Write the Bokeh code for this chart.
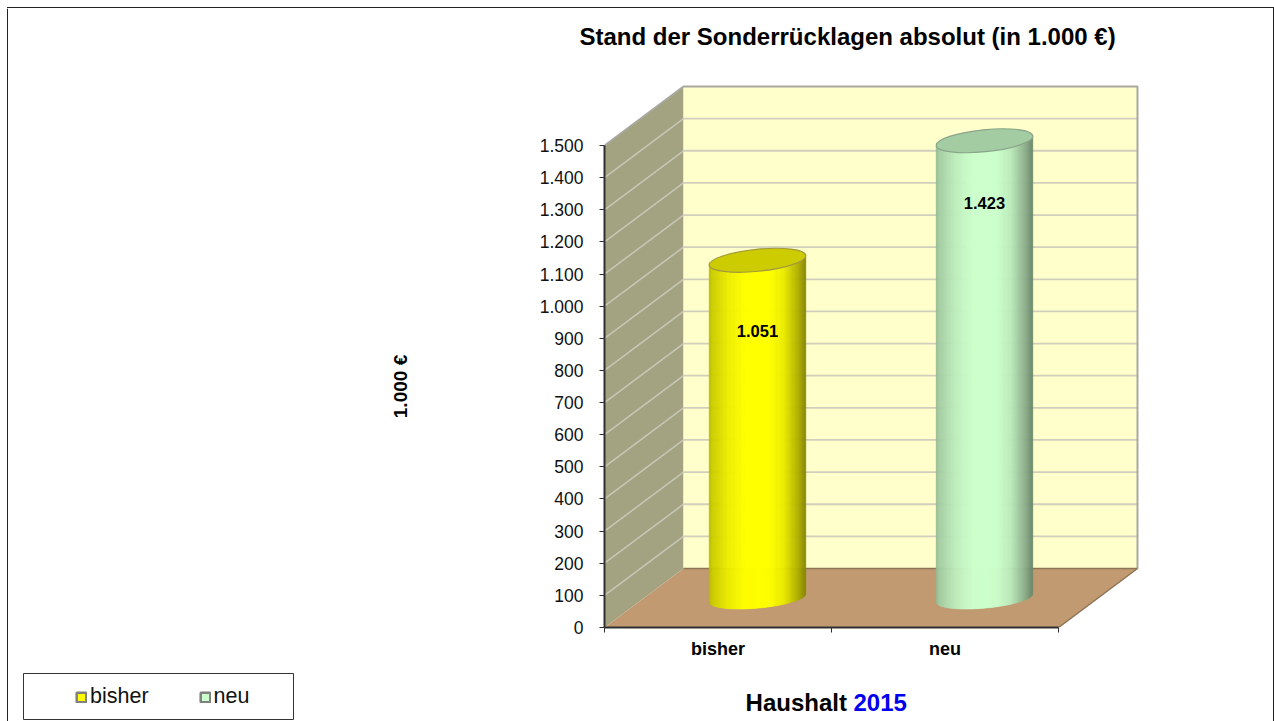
import numpy as np
from bokeh.core.properties import value
from bokeh.embed import file_html
from bokeh.layouts import column, row
from bokeh.models import Div, FixedTicker, Legend, LegendItem, LinearAxis, Range1d, Title
from bokeh.plotting import figure
from bokeh.resources import INLINE

categories = ["bisher", "neu"]
values = [1051, 1423]
value_labels = ["1.051", "1.423"]
y_ticks = list(range(0, 1501, 100))
y_tick_labels = ["0", "100", "200", "300", "400", "500", "600", "700", "800", "900",
                 "1.000", "1.100", "1.200", "1.300", "1.400", "1.500"]
bar_fill = ["#ffff00", "#ccffcc"]
top_fill = ["#cccc00", "#a3cca3"]
top_edge = ["#a39a3c", "#8aa58a"]

FONT = "Liberation Sans"
PAGE_W, PAGE_H = 1274, 721
TOP, RIGHT = 8, 1266
SPLIT_X, SPLIT_Y = 500, 665
FX0, FX1, FY0, FY1 = 604, 1160, 54, 627            # main frame in the picture
PX_X = 227.0              # pixels per category
PX_Y = 482.0 / 1500.0     # pixels per unit
DX = 79 / PX_X            # depth of the 3D box, in data units
DY = 59 / PX_Y
BORDER = "#222222"


def page_figure(x0, x1, y0, y1):
    """A figure without axes whose data coordinates are picture pixels."""
    f = figure(width=x1 - x0, height=y1 - y0, output_backend="svg", toolbar_location=None,
               x_range=Range1d(x0, x1), y_range=Range1d(y1, y0),
               min_border=0, min_border_left=0, min_border_right=0, min_border_top=0, min_border_bottom=0,
               x_axis_type=None, y_axis_type=None, outline_line_color=None)
    f.grid.visible = False
    return f


# main chart
p = figure(width=RIGHT - SPLIT_X, height=SPLIT_Y - TOP, output_backend="svg", toolbar_location=None,
           x_range=Range1d(0, (FX1 - FX0) / PX_X), y_range=Range1d(0, (FY1 - FY0) / PX_Y),
           min_border_left=FX0 - SPLIT_X, min_border_right=RIGHT - FX1,
           min_border_top=FY0 - TOP, min_border_bottom=SPLIT_Y - FY1,
           x_axis_type=None, y_axis_type=None, outline_line_color=None)
p.grid.visible = False

WALL_EDGE = "#a8a8a0"
n = len(categories)
p.patch([0, DX, DX, 0], [0, DY, DY + 1500, 1500], fill_color="#a3a382", line_color=None)
p.quad(left=[DX], right=[n + DX], bottom=[DY], top=[DY + 1500], fill_color="#ffffcc", line_color=None)
for v in y_ticks[1:-1]:
    p.line([0, DX], [v, v + DY], line_color="#c6c6b6", line_width=1.6)
    p.line([DX, n + DX], [v + DY, v + DY], line_color="#cfcfbb", line_width=1.8)
p.line([0, DX, n + DX, n + DX], [1500, 1500 + DY, 1500 + DY, DY], line_color=WALL_EDGE, line_width=2)
p.patch([0, DX, n + DX, n], [0, DY, DY, 0], fill_color="#c19a72", line_color=None)
p.line([DX, n + DX, n], [DY, DY, 0], line_color="#8f7355", line_width=1.5)

# cylinders
A, B, THETA = 48.5, 11.0, 0.10
shade_pos = [-1.0, -0.93, -0.6, -0.25, 0.25, 0.55, 0.85, 1.0]
shade_amt = [0.72, 0.80, 0.93, 1.0, 1.0, 0.92, 0.68, 0.52]


def mix(hex_col, k):
    rgb = [int(hex_col[i:i + 2], 16) for i in (1, 3, 5)]
    return "#%02x%02x%02x" % tuple(int(round(c * k)) for c in rgb)


t = np.linspace(np.pi, 2 * np.pi, 200)
ex = A * np.cos(t) * np.cos(THETA) - B * np.sin(t) * np.sin(THETA)
ey = A * np.cos(t) * np.sin(THETA) + B * np.sin(t) * np.cos(THETA)
order = np.argsort(ex)
ex, ey = ex[order], ey[order]
edges = np.linspace(ex[0], ex[-1], 98)
lower = np.interp(edges, ex, ey) * 0.92
center = edges * np.tan(THETA)

for i, (val, col) in enumerate(zip(values, bar_fill)):
    cx = i + 0.5 + DX / 2
    base = DY / 2
    xs, ys, cols = [], [], []
    for j in range(len(edges) - 1):
        xa, xb = cx + edges[j] / PX_X, cx + edges[j + 1] / PX_X
        xs.append([xa, xb, xb, xa])
        ys.append([base + lower[j] / PX_Y, base + lower[j + 1] / PX_Y,
                   base + val + center[j + 1] / PX_Y, base + val + center[j] / PX_Y])
        u = (edges[j] + edges[j + 1]) / 2 / A
        cols.append(mix(col, float(np.interp(u, shade_pos, shade_amt))))
    p.patches(xs, ys, fill_color=cols, line_color=cols, line_width=0.6)
    p.ellipse([cx], [base + val], width=2 * A, height=2 * B, angle=THETA,
              width_units="screen", height_units="screen",
              fill_color=top_fill[i], line_color=top_edge[i], line_width=1.2)

LABEL_Y = [924, 1320]
p.text([i + 0.5 + DX / 2 for i in range(n)], LABEL_Y, text=value_labels,
       text_font=value(FONT), text_font_style="bold", text_font_size="16.5px",
       text_align="center", text_baseline="middle", text_color="black")

yax = LinearAxis(ticker=FixedTicker(ticks=y_ticks), bounds=(0, 1500),
                 major_label_overrides={v: s for v, s in zip(y_ticks, y_tick_labels)},
                 major_label_text_font=FONT, major_label_text_font_size="17.5px",
                 major_label_text_color="#111111", major_label_standoff=16,
                 axis_line_color="#303030", axis_line_width=2,
                 major_tick_line_color="#303030", major_tick_line_width=1,
                 major_tick_in=0, major_tick_out=5, minor_tick_line_color=None)
p.add_layout(yax, "left")
xax = LinearAxis(ticker=FixedTicker(ticks=[i + 0.5 for i in range(n)], minor_ticks=list(range(n + 1))),
                 bounds=(0, n),
                 major_label_overrides={i + 0.5: c for i, c in enumerate(categories)},
                 major_label_text_font=FONT, major_label_text_font_style="bold",
                 major_label_text_font_size="18px", major_label_text_color="black",
                 major_label_standoff=6,
                 axis_line_color="#303030", axis_line_width=2,
                 major_tick_line_color=None, major_tick_in=0, major_tick_out=0,
                 minor_tick_line_color="#303030", minor_tick_in=0, minor_tick_out=5)
p.add_layout(xax, "below")
p.title = Title(text="Stand der Sonderrücklagen absolut (in 1.000 €)", align="left",
                text_font=FONT, text_font_style="bold", text_font_size="24px", text_color="black",
                offset=579 - FX0)

# left part: page border, axis title and legend
left = page_figure(0, SPLIT_X, TOP, PAGE_H)
left.line([7, 7], [TOP, PAGE_H], line_color=BORDER, line_width=1)
left.text([400], [386], text=["1.000 €"], angle=np.pi / 2, text_font=value(FONT), text_font_style="bold",
          text_font_size="19px", text_align="center", text_baseline="middle", text_color="black")
left.quad(left=[23], right=[293], top=[673], bottom=[719], fill_color=None, line_color="#333333", line_width=1)
swatches = [left.quad(left=[np.nan], right=[np.nan], bottom=[np.nan], top=[np.nan],
                      fill_color=c, line_color="#808080", line_width=2.5)
            for c in bar_fill]
legend = Legend(items=[LegendItem(label=c, renderers=[r]) for c, r in zip(categories, swatches)],
                orientation="horizontal", location=(75, PAGE_H - 709),
                border_line_color=None, background_fill_color=None, padding=0, margin=0, spacing=50,
                glyph_width=12, glyph_height=12, label_standoff=3,
                label_text_font=FONT, label_text_font_size="21.5px", label_text_color="#111111")
left.add_layout(legend, "center")

# bottom part: caption
bottom = page_figure(SPLIT_X, RIGHT, SPLIT_Y, PAGE_H)
bottom.text([834], [701.5], text=["Haushalt"], text_font=value(FONT), text_font_style="bold", text_font_size="24px",
            text_align="right", text_baseline="middle", text_color="black")
bottom.text([843], [701.5], text=["2015"], text_font=value(FONT), text_font_style="bold", text_font_size="24px",
            text_align="left", text_baseline="middle", text_color="#0000ee")

# top and right strips carry the rest of the page border
top = Div(text="", width=PAGE_W, height=TOP, margin=0,
          styles={"background": f"linear-gradient(to right, transparent 7px, {BORDER} 7px)",
                  "background-size": "100% 1px", "background-position": "0 7px", "background-repeat": "no-repeat"})
right = Div(text="", width=PAGE_W - RIGHT, height=PAGE_H - TOP, margin=0,
            styles={"background": BORDER, "background-size": "1px 100%", "background-position": "7px 0",
                    "background-repeat": "no-repeat",
                    "background-image": f"linear-gradient({BORDER}, {BORDER})", "background-color": "transparent"})

page = column(top, row(left, column(p, bottom, spacing=0), right, spacing=0), spacing=0)

open("out.html", "w").write(file_html(page, INLINE))
